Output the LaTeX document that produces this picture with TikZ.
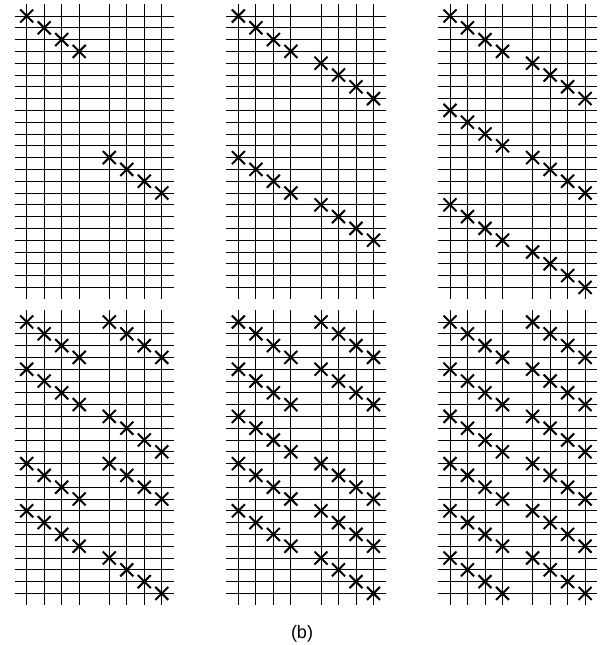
\documentclass[tikz,border=0pt]{standalone}
\usepackage{fontspec}
\setmainfont{Liberation Sans}
\begin{document}
\begin{tikzpicture}[x=1pt,y=-1pt,
  gridline/.style={line width=0.9pt,black},
  xmark/.style={line width=2pt,black}]
\useasboundingbox (0,0) rectangle (605,645);
\foreach \px/\py/\chains in {
  0/0/{1/1,13/2},
  211.7/0/{1/1,5/2,13/1,17/2},
  423.3/0/{1/1,5/2,9/1,13/2,17/1,21/2},
  0/306/{1/1,1/2,5/1,9/2,13/1,13/2,17/1,21/2},
  211.7/306/{1/1,1/2,5/1,5/2,9/1,13/1,13/2,17/1,17/2,21/2},
  423.3/306/{1/1,1/2,5/1,5/2,9/1,9/2,13/1,13/2,17/1,17/2,21/1,21/2}}{
  \begin{scope}[shift={(\px,\py)}]
    \foreach \c in {26.7,44.2,61.7,79.2,109.3,126.8,144.3,161.8}
      \draw[gridline] (\c,4) -- (\c,299);
    \foreach \r in {0,...,23}
      \draw[gridline] (14.7,{16+\r*11.8}) -- (174,{16+\r*11.8});
    \foreach \s/\g in \chains {
      \foreach \k in {0,...,3} {
        \pgfmathsetmacro{\cx}{26.7+(\g-1)*82.6+\k*17.5}
        \pgfmathsetmacro{\cy}{16+(\s-1+\k)*11.8}
        \draw[xmark] (\cx-6.5,\cy-6.5) -- (\cx+6.5,\cy+6.5)
                     (\cx-6.5,\cy+6.5) -- (\cx+6.5,\cy-6.5);
      }
    }
  \end{scope}
}
\node[font=\fontsize{18}{20}\selectfont,inner sep=0pt] (lbl) at (302,634) {(b)};
\end{tikzpicture}
\end{document}
